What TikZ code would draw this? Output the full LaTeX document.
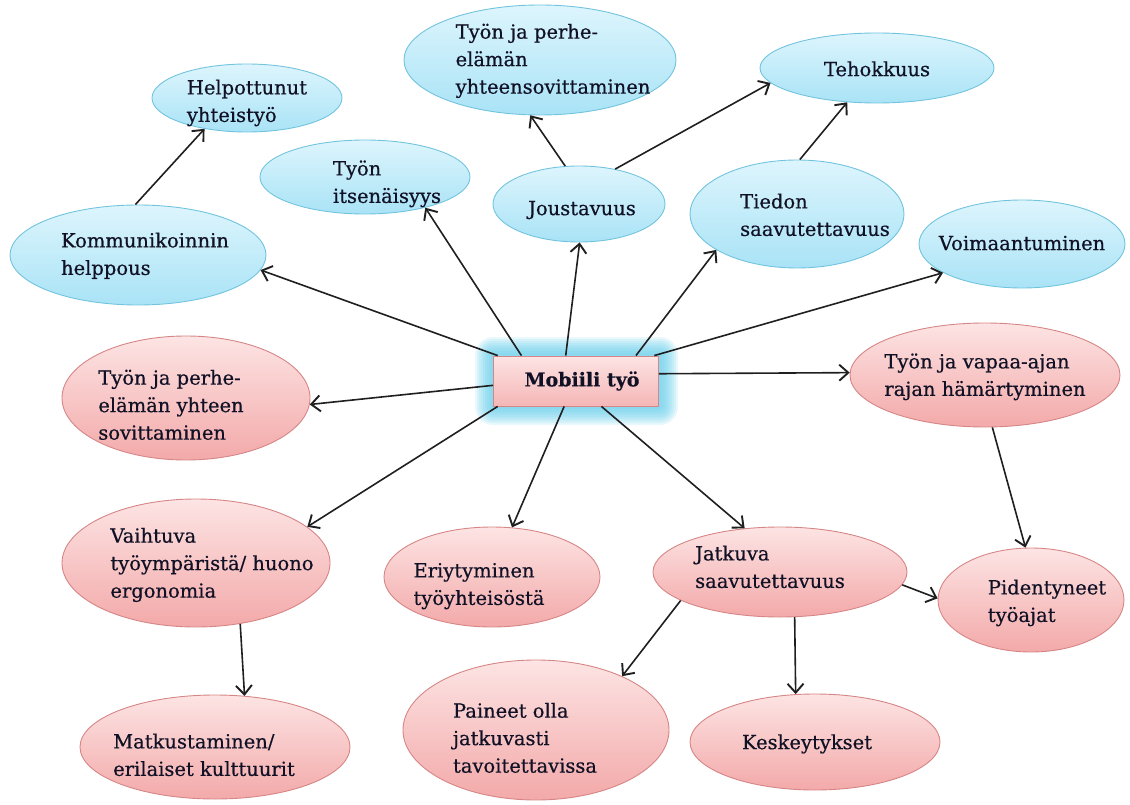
\documentclass[tikz,border=0pt]{standalone}
\usepackage{fontspec}
\setmainfont{DejaVu Serif}[FakeBold=0.5]
\usetikzlibrary{shapes.geometric,arrows.meta}
\definecolor{bluetop}{HTML}{DDF5FD}
\definecolor{bluebot}{HTML}{A9E3F6}
\definecolor{blueedge}{HTML}{72C4DE}
\definecolor{pinktop}{HTML}{FDE4E4}
\definecolor{pinkbot}{HTML}{F3A9A9}
\definecolor{pinkedge}{HTML}{D68686}
\definecolor{glowc}{HTML}{62CCEA}
\definecolor{txt}{HTML}{111126}
% \tx{dx}{dy}{lines}: zero-size text block, shifted by dx right and dy down
\newcommand\tx[3]{\smash{\makebox[0pt]{\hspace*{#1}\hspace*{#1}\raisebox{\dimexpr-.3em-#2\relax}{\begin{tabular}{@{}l@{}}#3\end{tabular}}}}}
\tikzset{
  nf/.style={font=\fontsize{19.5}{27.5}\selectfont, text=txt},
  bl/.style={ellipse, draw=blueedge, line width=0.9pt, top color=bluetop, bottom color=bluebot, inner sep=0pt, nf},
  pk/.style={ellipse, draw=pinkedge, line width=0.9pt, top color=pinktop, bottom color=pinkbot, inner sep=0pt, nf},
  arr/.style={-{Straight Barb[length=9pt,width=16pt,line width=1.9pt]}, line width=1.6pt, draw=black!88},
}
\begin{document}
\begin{tikzpicture}[x=1pt,y=-1pt]
\useasboundingbox (0,0) rectangle (1130,805);
% glow behind centre box
\foreach \i in {18,16,...,2}
  \fill[glowc, opacity=0.14, rounded corners=\i pt] (493-\i,355-\i) rectangle (660+\i,407+\i);
% blue nodes
\node[bl, minimum width=190pt, minimum height=68pt] (help) at (247,98) {\tx{0pt}{4pt}{Helpottunut\\yhteistyö}};
\node[bl, minimum width=272pt, minimum height=110pt] (tpt) at (540,60) {\tx{13pt}{0pt}{Työn ja perhe-\\elämän\\yhteensovittaminen}};
\node[bl, minimum width=234pt, minimum height=70pt] (teho) at (877,68) {\tx{0pt}{2pt}{Tehokkuus}};
\node[bl, minimum width=210pt, minimum height=74pt] (itse) at (365,177) {\tx{22pt}{6pt}{Työn\\itsenäisyys}};
\node[bl, minimum width=172pt, minimum height=76pt] (jous) at (579,204) {\tx{3pt}{5pt}{Joustavuus}};
\node[bl, minimum width=214pt, minimum height=108pt] (tied) at (797,214) {\tx{18pt}{2pt}{Tiedon\\saavutettavuus}};
\node[bl, minimum width=256pt, minimum height=100pt] (komm) at (138,255) {\tx{7pt}{0pt}{Kommunikoinnin\\helppous}};
\node[bl, minimum width=206pt, minimum height=88pt] (voim) at (1022,244) {\tx{0pt}{0pt}{Voimaantuminen}};
% pink nodes
\node[pk, minimum width=248pt, minimum height=124pt] (tpl) at (186,398) {\tx{-15pt}{8pt}{Työn ja perhe-\\elämän yhteen\\sovittaminen}};
\node[pk, minimum width=270pt, minimum height=104pt] (tva) at (985,375) {\tx{0pt}{1pt}{Työn ja vapaa-ajan\\rajan hämärtyminen}};
\node[pk, minimum width=268pt, minimum height=128pt] (vaih) at (196,563) {\tx{16pt}{1pt}{Vaihtuva\\työympäristä/ huono\\ergonomia}};
\node[pk, minimum width=216pt, minimum height=100pt] (eriy) at (492,577) {\tx{-13pt}{8pt}{Eriytyminen\\työyhteisöstä}};
\node[pk, minimum width=254pt, minimum height=90pt] (jatk) at (780,572) {\tx{-10pt}{-4pt}{Jatkuva\\saavutettavuus}};
\node[pk, minimum width=186pt, minimum height=104pt] (pide) at (1031,600) {\tx{16pt}{2pt}{Pidentyneet\\työajat}};
\node[pk, minimum width=270pt, minimum height=104pt] (matk) at (215,747) {\tx{-11pt}{9pt}{Matkustaminen/\\erilaiset kulttuurit}};
\node[pk, minimum width=266pt, minimum height=140pt] (pain) at (536,730) {\tx{-11pt}{9pt}{Paineet olla\\jatkuvasti\\tavoitettavissa}};
\node[pk, minimum width=250pt, minimum height=96pt] (kesk) at (815,742) {\tx{-8pt}{1pt}{Keskeytykset}};
% centre
\node[draw=pinkedge, line width=0.9pt, top color=pinktop, bottom color=pinkbot!85,
      minimum width=165pt, minimum height=50pt, inner sep=0pt,
      font=\bfseries\fontsize{19}{22}\selectfont, text=txt] (m) at (576,381) {\hspace*{12pt}Mobiili työ};
% connectors
\draw[arr] (komm.93) -- (help.216);
\draw[arr] (jous.110) -- (tpt.260);
\draw[arr] (jous.44) -- (teho.188);
\draw[arr] (tied.87) -- (teho.229);
\draw[arr] (m.162) -- (komm.353);
\draw[arr] (m.155) -- (itse.333);
\draw[arr] (m.112) -- (jous.271);
\draw[arr] (m.23) -- (tied.204);
\draw[arr] (m.18) -- (voim.200);
\draw[arr] (m.5) -- (tva.179);
\draw[arr] (m.183) -- (tpl.357);
\draw[arr] (m.198) -- (vaih.18);
\draw[arr] (m.245) -- (eriy.68);
\draw[arr] (m.315) -- (jatk.129);
\draw[arr] (tva.278) -- (pide.96);
\draw[arr] (jatk.354) -- (pide.179);
\draw[arr] (jatk.196) -- (pain.32);
\draw[arr] (jatk.288) -- (kesk.112);
\draw[arr] (vaih.306) -- (matk.60);
\end{tikzpicture}
\end{document}
